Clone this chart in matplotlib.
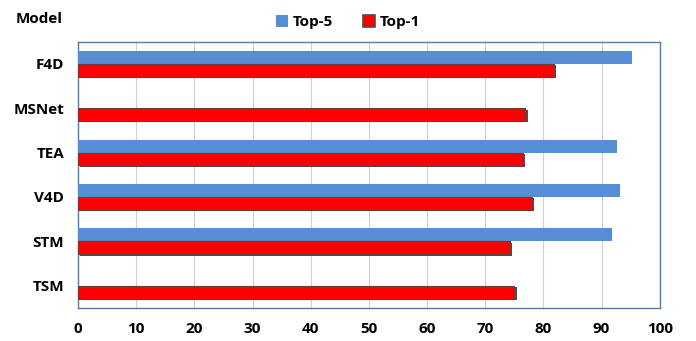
import numpy as np
import matplotlib.pyplot as plt
from matplotlib.patches import Patch

models = ['F4D', 'MSNet', 'TEA', 'V4D', 'STM', 'TSM']
top5 = [95.2, 0, 92.7, 93.1, 91.8, 0]
top1 = [81.8, 76.9, 76.5, 78.0, 74.2, 75.0]
xticks = [0, 10, 20, 30, 40, 50, 60, 70, 80, 90, 100]

plt.rcParams['font.family'] = ['Open Sans', 'DejaVu Sans']
plt.rcParams['font.weight'] = 'bold'

fig = plt.figure(figsize=(6.96, 3.41), dpi=100)
ax = fig.add_axes([0.112, 0.097, 0.836, 0.781])

y = np.arange(len(models))[::-1]
h = 0.29
blue = '#558ed5'
red = '#ff0000'

ax.barh(y + h/2, top5, height=h, color=blue, zorder=3)
# dark shadow behind the red bars
ax.barh(y - h/2 - 0.03, top1, height=h, left=0.4, color='#5a4848', zorder=2)
ax.barh(y - h/2, top1, height=h, color=red, edgecolor='#6b3a3a', linewidth=0.8, zorder=3)

ax.set_xlim(0, 100)
ax.set_ylim(-0.5, 5.5)
ax.set_xticks(xticks)
ax.set_yticks(y)
ax.set_yticklabels(models)
ax.tick_params(axis='both', length=0, labelsize=11)
ax.tick_params(axis='x', pad=10)
ax.tick_params(axis='y', pad=10)
for lbl in ax.get_xticklabels() + ax.get_yticklabels():
    lbl.set_fontweight('bold')
ax.grid(axis='x', color='#d0d0d0', linewidth=0.8, zorder=0)
for s in ax.spines.values():
    s.set_color('#4f7fa8')
    s.set_linewidth(1.0)

fig.text(0.022, 0.945, 'Model', fontsize=11, fontweight='bold', va='center')

handles = [Patch(facecolor=blue, label='Top-5'),
           Patch(facecolor=red, edgecolor='#5a4848', linewidth=1.2, label='Top-1')]
fig.legend(handles=handles, loc='center', bbox_to_anchor=(0.50, 0.935), ncol=2,
           frameon=False, handlelength=0.8, handleheight=0.8,
           handletextpad=0.3, columnspacing=2.0,
           prop={'size': 11, 'weight': 'bold'})

fig.savefig('out.png', dpi=100)
